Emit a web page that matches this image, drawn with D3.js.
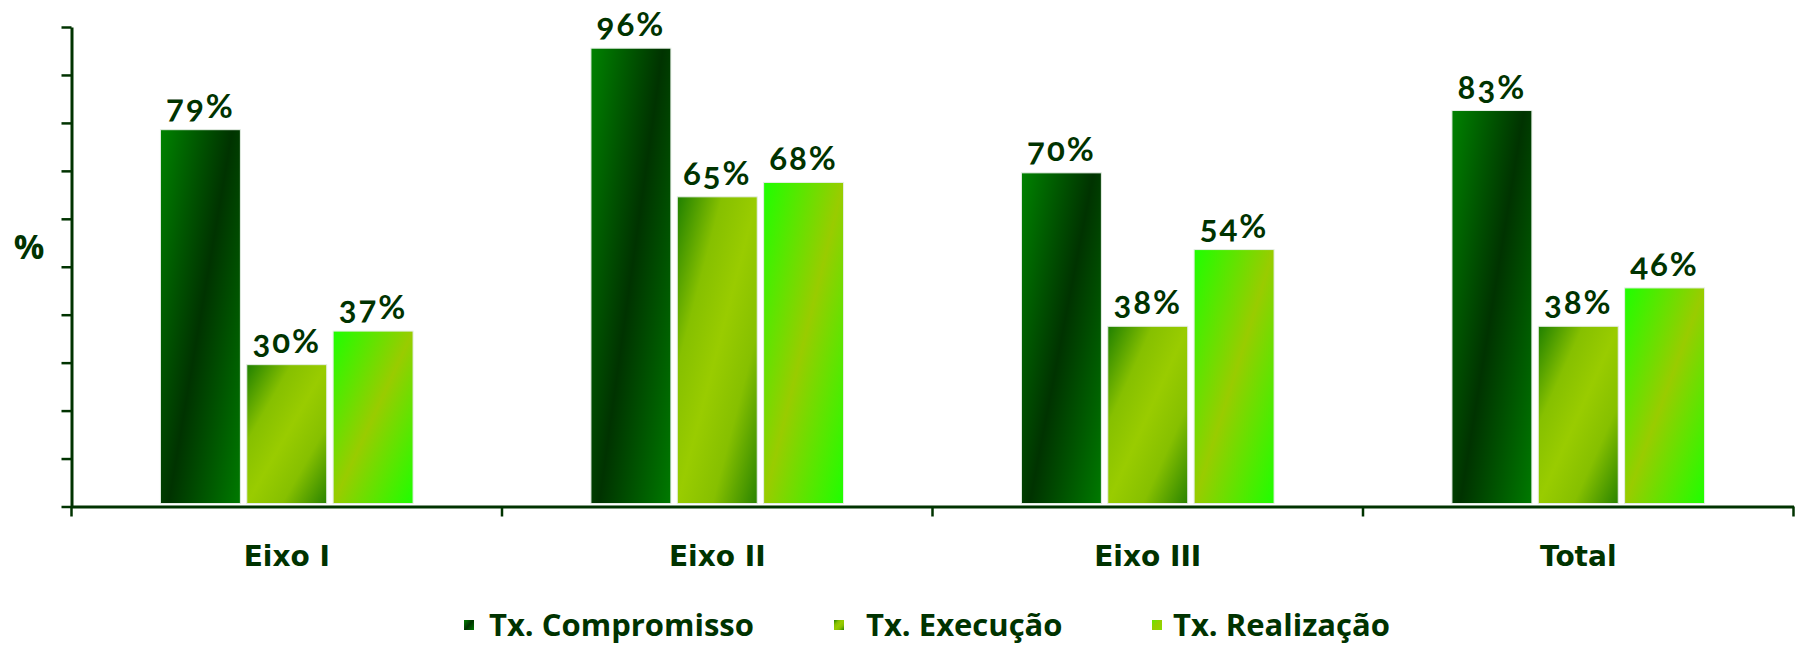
<!DOCTYPE html>
<html>
<head>
<meta charset="utf-8">
<script src="https://cdn.jsdelivr.net/npm/d3@7"></script>
<style>
  html, body { margin: 0; padding: 0; background: #ffffff; }
  svg { display: block; }
</style>
</head>
<body>
<svg id="chart" width="1806" height="649"></svg>
<script>
// ---- data ----
const categories = ["Eixo I", "Eixo II", "Eixo III", "Total"];
const seriesNames = ["Tx. Compromisso", "Tx. Execução", "Tx. Realização"];
const compromisso = [79, 96, 70, 83];
const execucao    = [30, 65, 38, 38];
const realizacao  = [37, 68, 54, 46];
const yTicks = [0, 10, 20, 30, 40, 50, 60, 70, 80, 90, 100];
const yTitle = "%";

// ---- layout ----
const W = 1806, H = 649;
const plot = { left: 71.5, right: 1793.5, top: 27, bottom: 506.5 };
const textColor = "#003300";
const legendMarkerX = [464, 834, 1152];
const legendTextX = [489, 866, 1173];
const barInset = 2;   // white border inset of each bar

const seriesValues = [compromisso, execucao, realizacao];
const rows = categories.map((c, i) => ({
  cat: c,
  vals: seriesNames.map((s, j) => ({ s, j, v: seriesValues[j][i] }))
}));

const svg = d3.select("#chart");
svg.append("rect").attr("width", W).attr("height", H).attr("fill", "#fff");

// ---- gradients ----
const defs = svg.append("defs");
function grad(id, x2, y2, stops) {
  const g = defs.append("linearGradient").attr("id", id)
    .attr("x1", 0).attr("y1", 0).attr("x2", x2).attr("y2", y2);
  stops.forEach(([o, c]) => g.append("stop").attr("offset", o).attr("stop-color", c));
}
grad("g0", 1.1, 0.88, [[0, "#008200"], [0.5, "#003300"], [1, "#007a00"]]);
grad("g1", 1, 1, [[0, "#1f8000"], [0.28, "#86c000"], [0.5, "#99cc00"], [0.72, "#86c000"], [1, "#2a8400"]]);
grad("g2", 1, 1, [[0, "#1eff00"], [0.5, "#99cc00"], [1, "#1eff00"]]);
grad("l2", 1, 1, [[0, "#66e600"], [0.5, "#99cc00"], [1, "#88dd00"]]);
const fills = ["url(#g0)", "url(#g1)", "url(#g2)"];
const legendFills = ["url(#g0)", "url(#g1)", "url(#l2)"];

// ---- scales ----
const y = d3.scaleLinear().domain([0, 100]).range([plot.bottom, plot.top]);
const x0 = d3.scaleBand().domain(categories).range([plot.left, plot.right]).padding(0);
const x1 = d3.scaleBand().domain(seriesNames).range([0, x0.bandwidth()])
  .paddingInner(0.074).paddingOuter(1.03);

// ---- bars ----
const groups = svg.append("g").selectAll("g").data(rows).join("g")
  .attr("transform", d => `translate(${x0(d.cat)},0)`);

groups.selectAll("rect").data(d => d.vals).join("rect")
  .attr("x", d => x1(d.s))
  .attr("y", d => y(d.v) + barInset)
  .attr("width", x1.bandwidth())
  .attr("height", d => y(0) - y(d.v) - barInset - 3)
  .attr("fill", d => fills[d.j])
  .attr("stroke", "#e6eee6")
  .attr("stroke-width", 1);

groups.selectAll("text").data(d => d.vals).join("text")
  .attr("x", d => x1(d.s) + x1.bandwidth() / 2)
  .attr("y", d => y(d.v) - 10)
  .attr("text-anchor", "middle")
  .attr("font-family", "Lato, 'Open Sans', sans-serif")
  .attr("font-weight", 700)
  .attr("font-size", 33)
  .attr("letter-spacing", 2)
  .style("font-variant-numeric", "oldstyle-nums")
  .attr("fill", textColor)
  .text(d => d.v + "%");

// ---- y axis ----
const yAxis = svg.append("g")
  .attr("transform", `translate(${plot.left},0)`)
  .call(d3.axisLeft(y).tickValues(yTicks).tickSize(10).tickSizeOuter(0).tickFormat(""));
yAxis.select(".domain").attr("stroke", textColor).attr("stroke-width", 3);
yAxis.selectAll(".tick line").attr("stroke", textColor).attr("stroke-width", 2.5);

// ---- x axis ----
const xAxis = svg.append("g")
  .attr("transform", `translate(0,${plot.bottom})`)
  .call(d3.axisBottom(x0).tickSize(0).tickSizeOuter(0).tickPadding(40));
xAxis.select(".domain").attr("stroke", textColor).attr("stroke-width", 3);
xAxis.selectAll(".tick text")
  .attr("font-family", "'DejaVu Sans', sans-serif")
  .attr("font-weight", 700)
  .attr("font-size", 28)
  .attr("fill", textColor);

const bounds = [x0(categories[0])].concat(categories.map(c => x0(c) + x0.bandwidth()));
xAxis.selectAll(".bound").data(bounds).join("line")
  .attr("class", "bound")
  .attr("x1", d => d).attr("x2", d => d)
  .attr("y1", 0).attr("y2", 10)
  .attr("stroke", textColor).attr("stroke-width", 2.5);

// ---- y title ----
svg.append("text")
  .attr("x", 29).attr("y", 259)
  .attr("text-anchor", "middle")
  .attr("font-family", "'Open Sans', sans-serif")
  .attr("font-weight", 700)
  .attr("font-size", 34)
  .attr("fill", textColor)
  .text(yTitle);

// ---- legend ----
const legend = svg.append("g").selectAll("g").data(seriesNames).join("g");
legend.append("rect")
  .attr("x", (d, i) => legendMarkerX[i]).attr("y", 620).attr("width", 10).attr("height", 10)
  .attr("fill", (d, i) => legendFills[i]);
legend.append("text")
  .attr("x", (d, i) => legendTextX[i]).attr("y", 636)
  .attr("font-family", "'Open Sans', sans-serif")
  .attr("font-weight", 700)
  .attr("font-size", 31)
  .attr("fill", textColor)
  .text(d => d);
</script>
</body>
</html>
